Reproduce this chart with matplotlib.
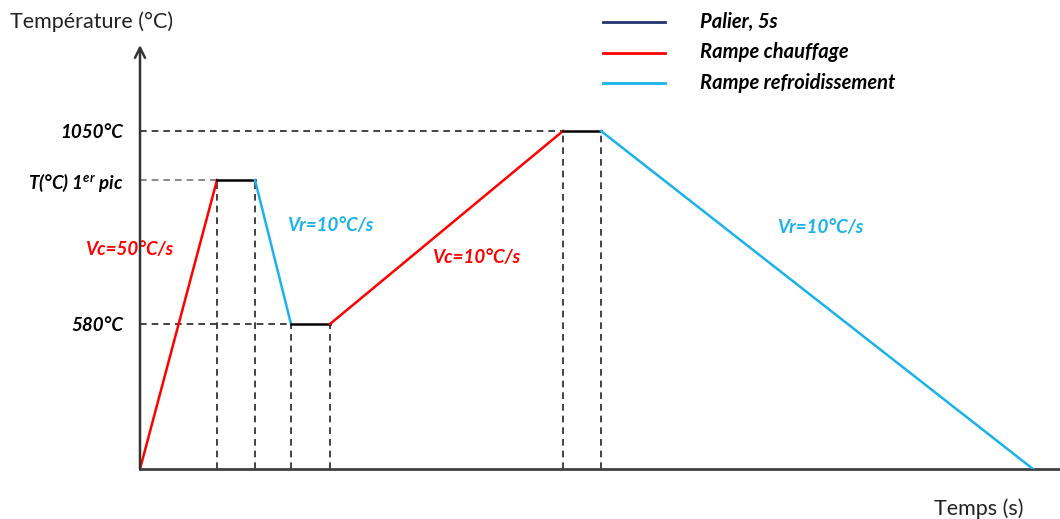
import matplotlib.pyplot as plt

plt.rcParams['font.family'] = ['Lato', 'DejaVu Sans']
plt.rcParams['mathtext.fontset'] = 'custom'
plt.rcParams['mathtext.rm'] = 'Lato:bold:italic'
plt.rcParams['mathtext.it'] = 'Lato:bold:italic'

# schematic cycle (arbitrary units, as in the drawing)
t_pts = [0, 77, 115, 151, 190, 423, 461, 893]
T_pts = [0, 289, 289, 145, 145, 338, 338, 0]
seg_kind = ['heat', 'hold', 'cool', 'hold', 'heat', 'hold', 'cool']

level_pos = [338, 289, 145]
level_lab = ['1050°C', 'T(°C) 1$^{er}$ pic', '580°C']
level_end = [423, 77, 151]
level_col = ['#222222', '#777777', '#222222']

vlines_t = [77, 115, 151, 190, 423, 461]
vlines_T = [289, 289, 145, 145, 338, 338]

rates = ['Vc=50°C/s', 'Vr=10°C/s', 'Vc=10°C/s', 'Vr=10°C/s']
rate_kind = ['heat', 'cool', 'heat', 'cool']
rate_t = [-55, 147, 292, 637]
rate_T = [219, 243, 212, 241]

colors = {'heat': '#ff0000', 'cool': '#1ab2ea', 'hold': '#000000'}
leg_labels = ['Palier, 5s', 'Rampe chauffage', 'Rampe refroidissement']
leg_colors = ['#1f3470', '#ff0000', '#1ab2ea']

fig = plt.figure(figsize=(10.6, 5.19), dpi=100)
ax = fig.add_axes([140 / 1060, 50 / 519, 920 / 1060, 424 / 519])
ax.set_xlim(0, 920)
ax.set_ylim(0, 424)

# guide lines
for y, xe, c in zip(level_pos, level_end, level_col):
    ax.plot([0, xe], [y, y], ls=(0, (4, 3)), color=c, lw=1.2, zorder=1)
for x, y in zip(vlines_t, vlines_T):
    ax.plot([x, x], [0, y], ls=(0, (4, 3)), color='#222222', lw=1.2, zorder=1)

# cycle
for i, k in enumerate(seg_kind):
    ax.plot(t_pts[i:i + 2], T_pts[i:i + 2], color=colors[k], lw=1.8, zorder=3)

for s, k, x, y in zip(rates, rate_kind, rate_t, rate_T):
    ax.text(x, y, s, color=colors[k], fontsize=13.5, fontweight='bold',
            fontstyle='italic', ha='left', va='center')

# axes
for sp in ['top', 'right', 'left']:
    ax.spines[sp].set_visible(False)
ax.spines['bottom'].set_color('#404040')
ax.spines['bottom'].set_linewidth(2)
ax.annotate('', xy=(0, 1), xytext=(0, 0), xycoords='axes fraction',
            arrowprops=dict(arrowstyle='->', color='#333333', lw=1.8,
                            mutation_scale=18, shrinkA=0, shrinkB=0))
ax.set_xticks([])
ax.set_yticks(level_pos)
ax.set_yticklabels(level_lab, fontsize=13.5, fontweight='bold', fontstyle='italic')
ax.tick_params(axis='y', length=0, pad=12)

fig.text(10 / 1060, 1 - 22 / 519, 'Température (°C)', fontsize=15.5,
         ha='left', va='center', color='#222222')
fig.text(1024 / 1060, 1 - 509 / 519, 'Temps (s)', fontsize=15.5,
         ha='right', va='center', color='#222222')

# legend
for i, (lab, c) in enumerate(zip(leg_labels, leg_colors)):
    yy = 1 - (22 + 30.5 * i) / 519
    fig.add_artist(plt.Line2D([603 / 1060, 665 / 1060], [yy, yy], color=c, lw=2))
    fig.text(700 / 1060, yy, lab, fontsize=14.5, fontweight='bold',
             fontstyle='italic', ha='left', va='center')

fig.savefig('out.png', dpi=100)
